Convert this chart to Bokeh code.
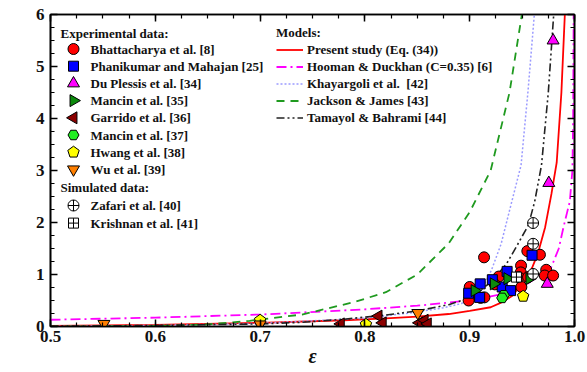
import math
from bokeh.plotting import figure
from bokeh.models import (Legend, LegendItem, LinearAxis, SingleIntervalTicker, Label,
                          CustomJSTickFormatter, PrintfTickFormatter)
from bokeh.core.properties import value
from bokeh.embed import file_html
from bokeh.resources import INLINE

# ---------------- data ----------------
bhatt_eps = [0.9137, 0.955, 0.967, 0.949, 0.9487, 0.9468, 0.9557, 0.9493, 0.9277, 0.924,
             0.900, 0.903, 0.899, 0.9104, 0.914, 0.973, 0.9716, 0.9796]
bhatt_K = [1.33, 1.45, 1.38, 1.17, 1.04, 0.95, 0.95, 0.76, 0.96, 0.81,
           0.76, 0.60, 0.50, 0.55, 0.56, 1.09, 0.98, 0.98]
phani_eps = [0.9595, 0.9357, 0.9216, 0.931, 0.939, 0.910, 0.899, 0.9095]
phani_K = [1.37, 1.06, 0.90, 0.76, 0.69, 0.82, 0.64, 0.56]
duples_eps = [0.9796, 0.9755, 0.974]
duples_K = [5.5, 2.76, 0.82]
mancin35_eps = [0.957, 0.936, 0.923, 0.9047]
mancin35_K = [0.92, 0.92, 0.82, 0.69]
garrido_eps = [0.777, 0.813, 0.817, 0.852, 0.857, 0.860]
garrido_K = [0.05, 0.20, 0.07, 0.07, 0.12, 0.05]
mancin37_eps = [0.9325, 0.931]
mancin37_K = [0.60, 0.55]
hwang_eps = [0.951, 0.801, 0.700]
hwang_K = [0.58, 0.04, 0.12]
wu_eps = [0.551, 0.700, 0.8505]
wu_K = [0.05, 0.04, 0.26]
zafari_eps = [0.9605, 0.9605, 0.9605]
zafari_K = [1.99, 1.59, 1.01]
krishnan_eps = [0.9446]
krishnan_K = [0.95]

present_eps = [0.50, 0.60, 0.70, 0.78, 0.82, 0.85, 0.88, 0.90, 0.92, 0.93, 0.94, 0.948,
               0.955, 0.96, 0.965, 0.972, 0.978, 0.983, 0.9875, 0.991]
present_K = [0.01, 0.03, 0.07, 0.12, 0.155, 0.19, 0.24, 0.30, 0.37, 0.46, 0.58, 0.77,
             0.93, 1.15, 1.40, 1.91, 2.55, 3.15, 4.5, 6.1]
hooman_eps = [0.50, 0.60, 0.70, 0.80, 0.85, 0.90, 0.93, 0.955, 0.97, 0.978, 0.985,
              0.9895, 0.993, 0.9955, 0.998, 0.9987, 0.9992]
hooman_K = [0.13, 0.17, 0.23, 0.33, 0.40, 0.50, 0.62, 0.82, 1.02, 1.15, 1.5,
            1.91, 2.2, 2.4, 3.0, 4.0, 6.1]
khay_eps = [0.50, 0.60, 0.70, 0.80, 0.847, 0.875, 0.892, 0.911, 0.9207, 0.930, 0.938,
            0.949, 0.9557, 0.962, 0.965]
khay_K = [0.005, 0.02, 0.06, 0.16, 0.27, 0.36, 0.44, 0.69, 1.08, 1.59, 2.23,
          3.1, 4.54, 6.08, 7.0]
jackson_eps = [0.50, 0.60, 0.65, 0.69, 0.74, 0.79, 0.82, 0.85, 0.88, 0.90, 0.92,
               0.938, 0.949, 0.952]
jackson_K = [0.0, 0.01, 0.04, 0.11, 0.23, 0.47, 0.66, 1.0, 1.6, 2.2, 3.0,
             4.5, 5.9, 6.3]
tamayol_eps = [0.50, 0.60, 0.70, 0.74, 0.78, 0.82, 0.85, 0.88, 0.90, 0.92, 0.935,
               0.945, 0.956, 0.962, 0.9685, 0.975, 0.9805]
tamayol_K = [0.005, 0.02, 0.05, 0.08, 0.14, 0.22, 0.30, 0.42, 0.55, 0.85, 1.2,
             1.55, 1.95, 2.4, 3.1, 4.5, 6.1]

exp_labels = ["Bhattacharya et al. [8]", "Phanikumar and Mahajan [25]", "Du Plessis et al. [34]",
              "Mancin et al. [35]", "Garrido et al. [36]", "Mancin et al. [37]",
              "Hwang et al. [38]", "Wu et al. [39]"]
sim_labels = ["Zafari et al. [40]", "Krishnan et al. [41]"]
model_labels = ["Present study (Eq. (34))", "Hooman & Duckhan (C=0.35) [6]",
                "Khayargoli et al.  [42]", "Jackson & James [43]", "Tamayol & Bahrami [44]"]

FONT = "Liberation Serif"
TXT = "#111111"

# layout constants (pixels)
W, H = 587, 372
B_L, B_R, B_T, B_B = 50, 13, 14, 46
X0, X1, Y0, Y1 = 0.5, 1.0, 0.0, 6.0
FW, FH = W - B_L - B_R, H - B_T - B_B

def px2x(px):
    return X0 + (px - B_L) / FW * (X1 - X0)

def py2y(py):
    return Y0 + (B_T + FH - py) / FH * (Y1 - Y0)

p = figure(width=W, height=H, x_range=(X0, X1), y_range=(Y0, Y1),
           output_backend="svg", toolbar_location=None,
           min_border_left=B_L, min_border_right=B_R, min_border_top=B_T, min_border_bottom=B_B)
p.background_fill_color = "white"
p.border_fill_color = "white"
p.grid.visible = False
p.outline_line_color = "black"
p.outline_line_width = 1.6

p.xaxis.ticker = SingleIntervalTicker(interval=0.1, num_minor_ticks=4)
p.yaxis.ticker = SingleIntervalTicker(interval=1, num_minor_ticks=4)
p.xaxis.formatter = PrintfTickFormatter(format="%.1f")
p.yaxis.formatter = PrintfTickFormatter(format="%d")

def style_axis(ax):
    ax.axis_line_color = "black"
    ax.axis_line_width = 1.6
    ax.major_tick_in = 7
    ax.major_tick_out = 0
    ax.minor_tick_in = 4
    ax.minor_tick_out = 0
    ax.major_tick_line_width = 1.5
    ax.minor_tick_line_width = 1.2

style_axis(p.xaxis[0])
style_axis(p.yaxis[0])
for axes in (p.xaxis, p.yaxis):
    axes.major_label_text_font = FONT
    axes.major_label_text_font_style = "bold"
    axes.major_label_text_font_size = "17px"
    axes.major_label_text_color = TXT
p.xaxis.major_label_standoff = 4
p.yaxis.major_label_standoff = 6
p.xaxis.axis_label = "ε"
p.xaxis.axis_label_text_font = FONT
p.xaxis.axis_label_text_font_style = "bold italic"
p.xaxis.axis_label_text_font_size = "20px"
p.xaxis.axis_label_text_color = TXT
p.xaxis.axis_label_standoff = 0

blank = CustomJSTickFormatter(code="return ''")
top_ax = LinearAxis(ticker=SingleIntervalTicker(interval=0.1, num_minor_ticks=4), formatter=blank)
right_ax = LinearAxis(ticker=SingleIntervalTicker(interval=1, num_minor_ticks=4), formatter=blank)
for ax in (top_ax, right_ax):
    style_axis(ax)
    ax.major_label_standoff = 0
    ax.major_label_text_font_size = "8px"
p.add_layout(top_ax, "above")
p.add_layout(right_ax, "right")

# y-axis label K/d_s^2 built from rotated labels
p.add_layout(Label(x=px2x(27), y=py2y(193), text="K/d", angle=math.pi / 2, text_font=FONT,
                   text_font_style="bold italic", text_font_size="21px", text_color=TXT,
                   text_align="left", text_baseline="alphabetic"))
p.add_layout(Label(x=px2x(18.5), y=py2y(161), text="2", angle=math.pi / 2, text_font=FONT,
                   text_font_style="bold", text_font_size="13px", text_color=TXT,
                   text_align="left", text_baseline="alphabetic"))
p.add_layout(Label(x=px2x(30), y=py2y(161), text="s", angle=math.pi / 2, text_font=FONT,
                   text_font_style="bold italic", text_font_size="14px", text_color=TXT,
                   text_align="left", text_baseline="alphabetic"))

# ---------------- model curves ----------------
r_present = p.line(present_eps, present_K, line_color="#ff0000", line_width=1.8)
r_hooman = p.line(hooman_eps, hooman_K, line_color="#ff00ff", line_width=1.8, line_dash="10 4 2 4")
r_khay = p.line(khay_eps, khay_K, line_color="#9a9aff", line_width=1.5, line_dash="2 2")
r_jack = p.line(jackson_eps, jackson_K, line_color="#1f9a1f", line_width=1.8, line_dash="8 6")
r_tam = p.line(tamayol_eps, tamayol_K, line_color="#222222", line_width=1.6, line_dash="8 3 2 3 2 3")

# ---------------- marker styles ----------------
S = 11
common = dict(line_color="black", line_width=1)
styles = [
    dict(marker="circle", size=S, fill_color="#ff0000"),
    dict(marker="square", size=S - 1, fill_color="#0000ff"),
    dict(marker="triangle", size=S + 1, fill_color="#ff00ff"),
    dict(marker="triangle", angle=-math.pi / 2, size=S + 1, fill_color="#0b8a0b"),
    dict(marker="triangle", angle=math.pi / 2, size=S + 1, fill_color="#8b0000"),
    dict(marker="hex", size=S, fill_color="#22ee22"),
    None,  # pentagon (ngon)
    dict(marker="inverted_triangle", size=S + 1, fill_color="#ff7f00"),
]
sim_styles = [
    dict(marker="circle_cross", size=S, fill_color="white"),
    dict(marker="square_cross", size=S - 1, fill_color="white"),
]
exp_data = [(bhatt_eps, bhatt_K), (phani_eps, phani_K), (duples_eps, duples_K),
            (mancin35_eps, mancin35_K), (garrido_eps, garrido_K), (mancin37_eps, mancin37_K),
            (hwang_eps, hwang_K), (wu_eps, wu_K)]
sim_data = [(zafari_eps, zafari_K), (krishnan_eps, krishnan_K)]

def draw(xs, ys, st):
    if st is None:
        p.ngon(x=xs, y=ys, radius=6, radius_units="screen", n=5, fill_color="#ffff00", **common)
    else:
        p.scatter(xs, ys, **st, **common)

for (xs, ys), st in zip(exp_data, styles):
    draw(xs, ys, st)
for (xs, ys), st in zip(sim_data, sim_styles):
    draw(xs, ys, st)

# ---------------- left legend (drawn as glyphs) ----------------
LEG_HDR_X, LEG_MK_X, LEG_TX_X = 60, 73, 90
EXP_HDR_Y, EXP_ROW0, EXP_PITCH = 33, 48.5, 17.2
SIM_HDR_Y, SIM_ROW0, SIM_PITCH = 187, 205, 17.6
txt_kw = dict(text_font=value(FONT), text_font_style="bold", text_font_size="13px",
              text_color=TXT, text_baseline="middle", text_align="left")

p.text(x=[px2x(LEG_HDR_X)] * 2, y=[py2y(EXP_HDR_Y), py2y(SIM_HDR_Y)],
       text=["Experimental data:", "Simulated data:"], **txt_kw)
exp_rows = [EXP_ROW0 + i * EXP_PITCH for i in range(len(exp_labels))]
sim_rows = [SIM_ROW0 + i * SIM_PITCH for i in range(len(sim_labels))]
p.text(x=[px2x(LEG_TX_X)] * len(exp_labels), y=[py2y(r) for r in exp_rows], text=exp_labels, **txt_kw)
p.text(x=[px2x(LEG_TX_X)] * len(sim_labels), y=[py2y(r) for r in sim_rows], text=sim_labels, **txt_kw)
for r, st in zip(exp_rows, styles):
    draw([px2x(LEG_MK_X)], [py2y(r)], st)
for r, st in zip(sim_rows, sim_styles):
    draw([px2x(LEG_MK_X)], [py2y(r)], st)

# ---------------- models legend ----------------
leg3 = Legend(items=[LegendItem(label=l, renderers=[r]) for l, r in
                     zip(model_labels, [r_present, r_hooman, r_khay, r_jack, r_tam])],
              title="Models:", location=(226, 200))
leg3.label_text_font = FONT
leg3.label_text_font_style = "bold"
leg3.label_text_font_size = "13px"
leg3.label_text_color = TXT
leg3.title_text_font = FONT
leg3.title_text_font_style = "bold"
leg3.title_text_font_size = "13px"
leg3.title_text_color = TXT
leg3.border_line_alpha = 0
leg3.background_fill_alpha = 0
leg3.padding = 0
leg3.margin = 0
leg3.glyph_width = 27
leg3.glyph_height = 17
leg3.label_height = 17
leg3.spacing = 0
leg3.label_standoff = 4
leg3.title_standoff = 0
p.add_layout(leg3)

open("out.html", "w").write(file_html(p, INLINE))
